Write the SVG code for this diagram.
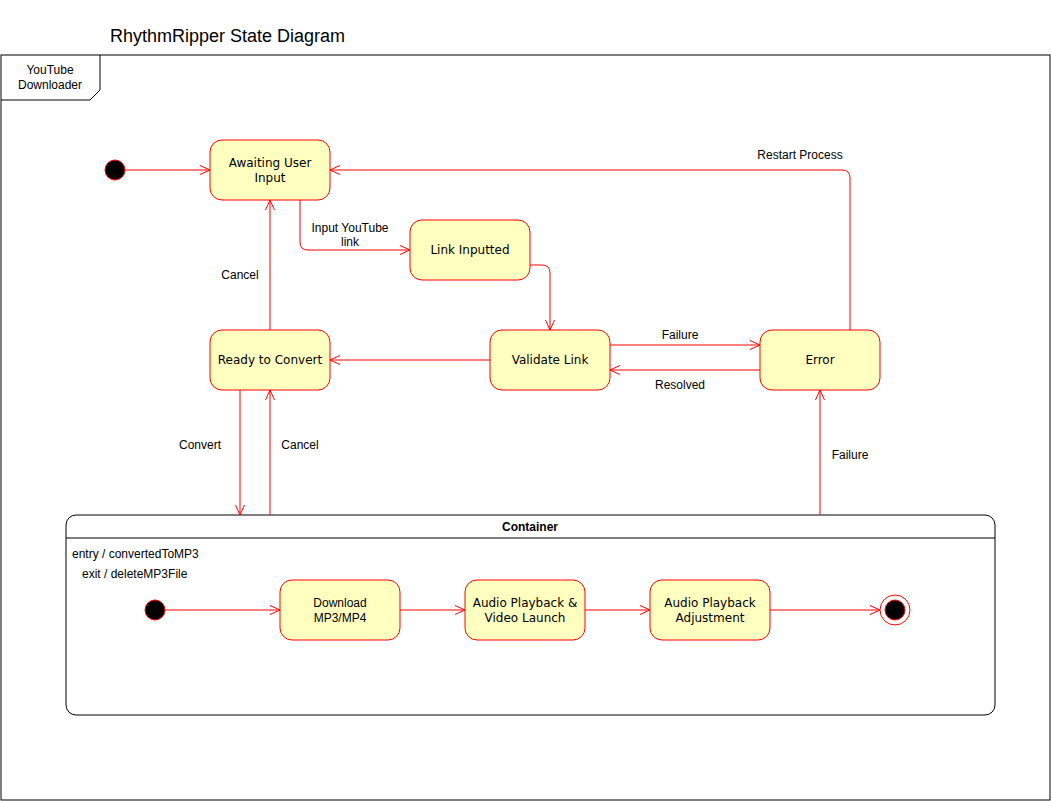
<svg xmlns="http://www.w3.org/2000/svg" width="1051" height="801" viewBox="0 0 1051 801">
<style>
.st{fill:#FFFFC0;stroke:#FF0000;stroke-width:1}
.nt{font-family:"DejaVu Sans",Verdana,sans-serif;font-size:12px;fill:#000;text-anchor:middle}
.lb{font-family:"Liberation Sans",Arial,sans-serif;font-size:12px;fill:#000;text-anchor:middle}
.cn{fill:none;stroke:#FF0000;stroke-width:1}
</style>
<defs>
<marker id="oa" markerWidth="12" markerHeight="10" refX="10" refY="5" orient="auto" markerUnits="userSpaceOnUse">
<path d="M0,0.5 L10,5 L0,9.5" fill="none" stroke="#FF0000" stroke-width="1"/>
</marker>
</defs>
<rect width="1051" height="801" fill="#fff"/>
<text x="110" y="42" font-family="'Liberation Sans',Arial,sans-serif" font-size="18" fill="#000">RhythmRipper State Diagram</text>
<g id="frame">
<rect x="1" y="55" width="1049" height="745" fill="none" stroke="#000" stroke-width="1"/>
<path d="M1,100 H90 L100,90 V55" fill="none" stroke="#000" stroke-width="1"/>
<text class="lb" x="50" y="74">YouTube</text>
<text class="lb" x="50" y="89">Downloader</text>
</g>
<g id="container">
<rect x="66" y="515" width="929" height="200" rx="10" fill="#fff" stroke="#000" stroke-width="1"/>
<line x1="66" y1="538" x2="995" y2="538" stroke="#000"/>
<text x="530" y="531" font-family="'Liberation Sans',Arial,sans-serif" font-size="12" font-weight="bold" text-anchor="middle">Container</text>
<text x="72" y="558" font-family="'Liberation Sans',Arial,sans-serif" font-size="12">entry / convertedToMP3</text>
<text x="82" y="578" font-family="'Liberation Sans',Arial,sans-serif" font-size="12">exit / deleteMP3File</text>
</g>
<g id="connectors">
<path class="cn" d="M125,170 H210" marker-end="url(#oa)"/>
<path class="cn" d="M300,200 V242 Q300,250 308,250 H410" marker-end="url(#oa)"/>
<path class="cn" d="M530,265 H542 Q550,265 550,273 V330" marker-end="url(#oa)"/>
<path class="cn" d="M610,345 H760" marker-end="url(#oa)"/>
<path class="cn" d="M760,370 H610" marker-end="url(#oa)"/>
<path class="cn" d="M490,360 H330" marker-end="url(#oa)"/>
<path class="cn" d="M270,330 V200" marker-end="url(#oa)"/>
<path class="cn" d="M850,330 V178 Q850,170 842,170 H330" marker-end="url(#oa)"/>
<path class="cn" d="M240,390 V515" marker-end="url(#oa)"/>
<path class="cn" d="M270,515 V390" marker-end="url(#oa)"/>
<path class="cn" d="M820,515 V390" marker-end="url(#oa)"/>
<path class="cn" d="M165,610 H280" marker-end="url(#oa)"/>
<path class="cn" d="M400,610 H465" marker-end="url(#oa)"/>
<path class="cn" d="M585,610 H650" marker-end="url(#oa)"/>
<path class="cn" d="M770,610 H880" marker-end="url(#oa)"/>
<text class="lb" x="350" y="232">Input YouTube</text>
<text class="lb" x="350" y="246">link</text>
<text class="lb" x="680" y="339">Failure</text>
<text class="lb" x="680" y="389">Resolved</text>
<text class="lb" x="240" y="279">Cancel</text>
<text class="lb" x="800" y="159">Restart Process</text>
<text class="lb" x="200" y="449">Convert</text>
<text class="lb" x="300" y="449">Cancel</text>
<text class="lb" x="850" y="459">Failure</text>
</g>
<g id="init1"><circle cx="115" cy="170" r="10" fill="#000" stroke="#FF0000"/></g>
<g id="awaiting"><rect class="st" x="210" y="140" width="120" height="60" rx="12"/><text class="nt" x="270" y="167">Awaiting User</text><text class="nt" x="270" y="182">Input</text></g>
<g id="linkInputted"><rect class="st" x="410" y="220" width="120" height="60" rx="12"/><text class="nt" x="470" y="254">Link Inputted</text></g>
<g id="ready"><rect class="st" x="210" y="330" width="120" height="60" rx="12"/><text class="nt" x="270" y="364">Ready to Convert</text></g>
<g id="validate"><rect class="st" x="490" y="330" width="120" height="60" rx="12"/><text class="nt" x="550" y="364">Validate Link</text></g>
<g id="error"><rect class="st" x="760" y="330" width="120" height="60" rx="12"/><text class="nt" x="820" y="364">Error</text></g>
<g id="init2"><circle cx="155" cy="610" r="10" fill="#000" stroke="#FF0000"/></g>
<g id="download"><rect class="st" x="280" y="580" width="120" height="60" rx="12"/><text class="lb" x="340" y="607">Download</text><text class="lb" x="340" y="622">MP3/MP4</text></g>
<g id="playback"><rect class="st" x="465" y="580" width="120" height="60" rx="12"/><text class="nt" x="525" y="607">Audio Playback &amp;</text><text class="nt" x="525" y="622">Video Launch</text></g>
<g id="adjust"><rect class="st" x="650" y="580" width="120" height="60" rx="12"/><text class="nt" x="710" y="607">Audio Playback</text><text class="nt" x="710" y="622">Adjustment</text></g>
<g id="final"><circle cx="895" cy="610" r="15" fill="#fff" stroke="#FF0000"/><circle cx="895" cy="610" r="10" fill="#000" stroke="#FF0000"/></g>
</svg>
